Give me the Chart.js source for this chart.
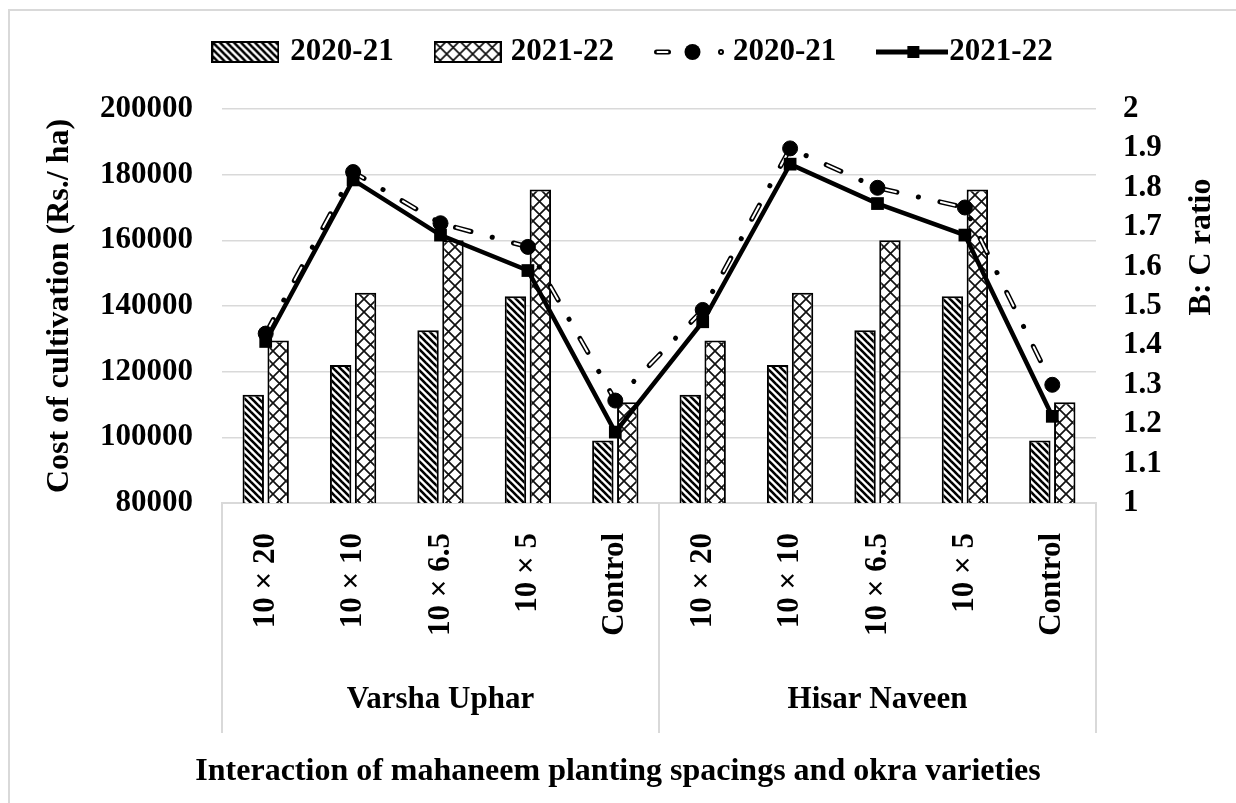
<!DOCTYPE html>
<html>
<head>
<meta charset="utf-8">
<script src="https://cdn.jsdelivr.net/npm/chart.js@4.4.1/dist/chart.umd.min.js"></script>
<style>
  html, body { margin: 0; padding: 0; background: #fff; }
  #wrap { position: relative; width: 1236px; height: 803px; overflow: hidden; }
  #frame { position: absolute; left: 8px; top: 9px; width: 1300px; height: 900px; border: 2px solid #d9d9d9; pointer-events: none; }
</style>
</head>
<body>
<div id="wrap">
  <canvas id="chart" width="1236" height="803"></canvas>
  <div id="frame"></div>
</div>
<script>
// ---------------- data ----------------
var categories = ['10 × 20', '10 × 10', '10 × 6.5', '10 × 5', 'Control',
                  '10 × 20', '10 × 10', '10 × 6.5', '10 × 5', 'Control'];
var varieties = ['Varsha Uphar', 'Hisar Naveen'];
var seasons = ['2020-21', '2021-22'];

// cost of cultivation (Rs./ha) - bars
var cost2020 = [113000, 122000, 132600, 143000, 99000, 113000, 122000, 132600, 143000, 99000];
var cost2021 = [129500, 144000, 160000, 175500, 110700, 129500, 144000, 160000, 175500, 110700];

// B:C ratio - lines
var ratio2020 = [1.43, 1.84, 1.71, 1.65, 1.26, 1.49, 1.90, 1.80, 1.75, 1.30];
var ratio2021 = [1.41, 1.82, 1.68, 1.59, 1.18, 1.46, 1.86, 1.76, 1.68, 1.22];

var costTicks = [80000, 100000, 120000, 140000, 160000, 180000, 200000];
var ratioTicks = [1, 1.1, 1.2, 1.3, 1.4, 1.5, 1.6, 1.7, 1.8, 1.9, 2];

var FONT = '"Liberation Serif", "Times New Roman", serif';
var GRID = '#d9d9d9';

// ---------------- patterns / legend icons ----------------
function makeCanvas(w, h) {
    var c = document.createElement('canvas');
    c.width = w; c.height = h;
    return c;
}

function stripeTile() {
    var s = 7, c = makeCanvas(s, s), g = c.getContext('2d');
    g.fillStyle = '#fff'; g.fillRect(0, 0, s, s);
    g.strokeStyle = '#000'; g.lineWidth = 2.6;
    for (var k = -1; k <= 1; k++) {
        g.beginPath(); g.moveTo(k * s - 1, -1); g.lineTo(k * s + s + 1, s + 1); g.stroke();
    }
    return c;
}

function latticeTile() {
    var s = 13, c = makeCanvas(s, s), g = c.getContext('2d');
    g.fillStyle = '#fff'; g.fillRect(0, 0, s, s);
    g.strokeStyle = '#111'; g.lineWidth = 1.7;
    g.beginPath();
    g.moveTo(-1, -1); g.lineTo(s + 1, s + 1);
    g.moveTo(s + 1, -1); g.lineTo(-1, s + 1);
    g.stroke();
    return c;
}

var patCtx = makeCanvas(1, 1).getContext('2d');
var stripePattern = patCtx.createPattern(stripeTile(), 'repeat');
var latticePattern = patCtx.createPattern(latticeTile(), 'repeat');

function barIcon(pattern) {
    var c = makeCanvas(68, 22), g = c.getContext('2d');
    g.fillStyle = pattern; g.fillRect(0, 0, 68, 22);
    g.strokeStyle = '#000'; g.lineWidth = 2; g.strokeRect(1, 1, 66, 20);
    return c;
}

function dashDotIcon() {
    var c = makeCanvas(70, 22), g = c.getContext('2d');
    g.lineCap = 'round';
    g.strokeStyle = '#000'; g.lineWidth = 5;
    g.beginPath(); g.moveTo(2.5, 11); g.lineTo(14.5, 11); g.stroke();
    g.strokeStyle = '#fff'; g.lineWidth = 2;
    g.beginPath(); g.moveTo(3.5, 11); g.lineTo(13.5, 11); g.stroke();
    g.fillStyle = '#000';
    g.beginPath(); g.arc(38.5, 11, 8, 0, Math.PI * 2); g.fill();
    g.beginPath(); g.arc(67, 11, 3, 0, Math.PI * 2); g.fill();
    g.fillStyle = '#fff';
    g.beginPath(); g.arc(67, 11, 1, 0, Math.PI * 2); g.fill();
    return c;
}

function solidIcon() {
    var c = makeCanvas(72, 22), g = c.getContext('2d');
    g.strokeStyle = '#000'; g.lineWidth = 5;
    g.beginPath(); g.moveTo(0, 11); g.lineTo(72, 11); g.stroke();
    g.fillStyle = '#000'; g.fillRect(31, 5, 12, 12);
    return c;
}

var legendItems = [
    { text: seasons[0], icon: barIcon(stripePattern), gap: 11 },
    { text: seasons[1], icon: barIcon(latticePattern), gap: 9 },
    { text: seasons[0], icon: dashDotIcon(), gap: 9 },
    { text: seasons[1], icon: solidIcon(), gap: 1 }
];

// ---------------- plugin: legend, group labels, right title ----------------
var decorPlugin = {
    id: 'decor',
    afterDraw: function(chart) {
        var ctx = chart.ctx;
        var area = chart.chartArea;
        var xs = chart.scales.x;
        ctx.save();

        // category groups (second level of the x axis)
        var per = categories.length / varieties.length;
        var bounds = [area.left];
        for (var g = 0; g < varieties.length - 1; g++) {
            var a = xs.getPixelForTick((g + 1) * per - 1);
            var b = xs.getPixelForTick((g + 1) * per);
            bounds.push((a + b) / 2);
        }
        bounds.push(area.right);

        ctx.strokeStyle = GRID;
        ctx.lineWidth = 2;
        bounds.forEach(function(bx) {
            ctx.beginPath();
            ctx.moveTo(bx, area.bottom);
            ctx.lineTo(bx, 733);
            ctx.stroke();
        });

        ctx.fillStyle = '#000';
        ctx.font = 'bold 31px ' + FONT;
        ctx.textAlign = 'center';
        ctx.textBaseline = 'middle';
        varieties.forEach(function(name, i) {
            ctx.fillText(name, (bounds[i] + bounds[i + 1]) / 2, 700);
        });

        // right axis title (reads bottom to top)
        ctx.save();
        ctx.translate(1202, 247);
        ctx.rotate(-Math.PI / 2);
        ctx.font = 'bold 32px ' + FONT;
        ctx.fillText('B: C ratio', 0, 0);
        ctx.restore();

        // legend
        ctx.font = 'bold 31px ' + FONT;
        ctx.textAlign = 'left';
        var spacing = 40;
        var total = 0;
        legendItems.forEach(function(it, i) {
            it.tw = ctx.measureText(it.text).width;
            total += it.icon.width + it.gap + it.tw + (i > 0 ? spacing : 0);
        });
        var x = 632 - total / 2;
        var cy = 52;
        legendItems.forEach(function(it) {
            ctx.drawImage(it.icon, x, cy - it.icon.height / 2);
            x += it.icon.width + it.gap;
            ctx.fillText(it.text, x, cy);
            x += it.tw + spacing;
        });

        ctx.restore();
    }
};

// ---------------- chart ----------------
var tickFont = { family: FONT, size: 31, weight: 'bold' };
var titleFont = { family: FONT, size: 32, weight: 'bold' };

var ctx = document.getElementById('chart').getContext('2d');
var myChart = new Chart(ctx, {
    data: {
        labels: categories,
        datasets: [
            {
                type: 'line',
                label: seasons[1],
                data: ratio2021,
                yAxisID: 'y1',
                borderColor: '#000',
                borderWidth: 4.5,
                pointStyle: 'rect',
                pointRadius: 9,
                pointBackgroundColor: '#000',
                pointBorderColor: '#000',
                pointBorderWidth: 0,
                order: 1
            },
            {
                // white core of the hollow dashes + circle markers
                type: 'line',
                label: '',
                data: ratio2020,
                yAxisID: 'y1',
                borderColor: '#fff',
                borderWidth: 2,
                borderDash: [14, 46.1],
                borderDashOffset: -1,
                borderCapStyle: 'round',
                pointStyle: 'circle',
                pointRadius: 7.5,
                pointBackgroundColor: '#000',
                pointBorderColor: '#000',
                pointBorderWidth: 1,
                order: 2
            },
            {
                type: 'line',
                label: seasons[0],
                data: ratio2020,
                yAxisID: 'y1',
                borderColor: '#000',
                borderWidth: 5,
                borderDash: [16, 22, 0.1, 22],
                borderCapStyle: 'round',
                pointRadius: 0,
                order: 3
            },
            {
                type: 'bar',
                label: seasons[0],
                data: cost2020,
                yAxisID: 'y',
                backgroundColor: stripePattern,
                borderColor: '#000',
                borderWidth: 2,
                borderSkipped: false,
                categoryPercentage: 0.57,
                barPercentage: 0.86,
                order: 4
            },
            {
                type: 'bar',
                label: seasons[1],
                data: cost2021,
                yAxisID: 'y',
                backgroundColor: latticePattern,
                borderColor: '#000',
                borderWidth: 2,
                borderSkipped: false,
                categoryPercentage: 0.57,
                barPercentage: 0.86,
                order: 5
            }
        ]
    },
    options: {
        responsive: false,
        animation: false,
        layout: { padding: { top: 109, left: 0, right: 0, bottom: 0 } },
        plugins: {
            legend: { display: false },
            tooltip: { enabled: false },
            title: {
                display: true,
                position: 'bottom',
                text: 'Interaction of mahaneem planting spacings and okra varieties',
                color: '#000',
                font: titleFont,
                padding: { top: 8, bottom: 12 }
            }
        },
        scales: {
            x: {
                grid: { display: false, drawTicks: false },
                border: { display: true, color: GRID, width: 2 },
                ticks: {
                    autoSkip: false,
                    minRotation: 90,
                    maxRotation: 90,
                    padding: 30,
                    color: '#000',
                    font: tickFont
                },
                afterFit: function(scale) { scale.height = 241.6; }
            },
            y: {
                position: 'left',
                min: costTicks[0],
                max: costTicks[costTicks.length - 1],
                grid: { color: GRID, lineWidth: 1.5, drawTicks: false },
                border: { display: false },
                ticks: {
                    autoSkip: false,
                    padding: 29,
                    color: '#000',
                    font: tickFont,
                    callback: function(v) { return String(v); }
                },
                afterBuildTicks: function(scale) {
                    scale.ticks = costTicks.map(function(v) { return { value: v }; });
                },
                title: {
                    display: true,
                    text: 'Cost of cultivation (Rs./ ha)',
                    color: '#000',
                    font: titleFont,
                    padding: { top: 41, bottom: 0 }
                },
                afterFit: function(scale) { scale.width = 222; }
            },
            y1: {
                position: 'right',
                min: ratioTicks[0],
                max: ratioTicks[ratioTicks.length - 1],
                grid: { display: false, drawTicks: false },
                border: { display: false },
                ticks: {
                    autoSkip: false,
                    padding: 27,
                    color: '#000',
                    font: tickFont,
                    callback: function(v) { return String(Math.round(v * 10) / 10); }
                },
                afterBuildTicks: function(scale) {
                    scale.ticks = ratioTicks.map(function(v) { return { value: v }; });
                },
                afterFit: function(scale) { scale.width = 140; }
            }
        }
    },
    plugins: [decorPlugin]
});
</script>
</body>
</html>
